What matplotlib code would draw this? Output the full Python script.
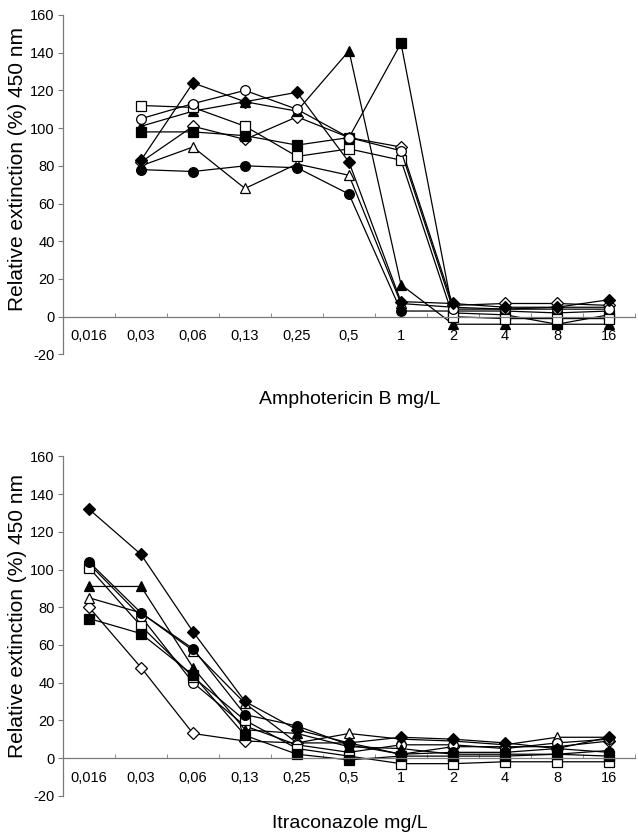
import numpy as np
import matplotlib.pyplot as plt

plt.rcParams['font.family'] = ['Liberation Sans', 'DejaVu Sans']
plt.rcParams['axes.unicode_minus'] = False

nan = np.nan

# concentration categories (same for both panels)
conc_labels = ['0,016', '0,03', '0,06', '0,13', '0,25', '0,5',
               '1', '2', '4', '8', '16']

# Amphotericin B, relative extinction (%) per isolate
ampho_diamond_f = [nan, 83, 124, 114, 119, 82, 8, 7, 5, 5, 9]
ampho_circle_o = [nan, 105, 113, 120, 110, 95, 88, 4, 4, 4, 4]
ampho_triangle_f = [nan, 101, 109, 114, 109, 141, 17, -4, -4, -4, -4]
ampho_square_o = [nan, 112, 111, 101, 85, 89, 83, 0, -1, -1, -1]
ampho_square_f = [nan, 98, 98, 96, 91, 95, 145, 2, 1, -4, 1]
ampho_diamond_o = [nan, 82, 101, 94, 106, 95, 90, 6, 7, 7, 6]
ampho_triangle_o = [nan, 80, 90, 68, 81, 75, 7, 5, 4, 5, 5]
ampho_circle_f = [nan, 78, 77, 80, 79, 65, 3, 3, 3, 2, 3]

# Itraconazole, relative extinction (%) per isolate
itra_diamond_f = [132, 108, 67, 30, 15, 8, 11, 10, 8, 5, 11]
itra_circle_f = [104, 77, 58, 23, 17, 7, 2, 3, 3, 5, 3]
itra_circle_o = [103, 75, 40, 17, 7, 3, 7, 7, 5, 8, 10]
itra_square_o = [101, 70, 43, 20, 5, 1, -3, -3, -2, -2, -2]
itra_triangle_f = [91, 91, 48, 15, 13, 6, 5, 2, 2, 2, 4]
itra_triangle_o = [85, 77, 57, 29, 8, 13, 10, 9, 7, 11, 11]
itra_diamond_o = [80, 48, 13, 9, 8, 8, 2, 6, 6, 6, 9]
itra_square_f = [74, 66, 44, 12, 2, -1, 1, 1, 1, 2, 1]

ampho_series = [
    (ampho_triangle_o, '^', 'white'),
    (ampho_diamond_o, 'D', 'white'),
    (ampho_circle_f, 'o', 'black'),
    (ampho_triangle_f, '^', 'black'),
    (ampho_square_f, 's', 'black'),
    (ampho_square_o, 's', 'white'),
    (ampho_circle_o, 'o', 'white'),
    (ampho_diamond_f, 'D', 'black'),
]
itra_series = [
    (itra_diamond_o, 'D', 'white'),
    (itra_triangle_o, '^', 'white'),
    (itra_circle_o, 'o', 'white'),
    (itra_square_o, 's', 'white'),
    (itra_square_f, 's', 'black'),
    (itra_triangle_f, '^', 'black'),
    (itra_circle_f, 'o', 'black'),
    (itra_diamond_f, 'D', 'black'),
]

msizes = {'D': 6.0, 'o': 7.0, '^': 7.5, 's': 6.5}
axis_grey = '#7a7a7a'


def style_axes(ax):
    ax.set_xlim(-0.5, 10.5)
    ax.set_ylim(-20, 160)
    ax.spines['top'].set_visible(False)
    ax.spines['right'].set_visible(False)
    ax.spines['bottom'].set_position(('data', 0))
    for s in ('left', 'bottom'):
        ax.spines[s].set_color(axis_grey)
        ax.spines[s].set_linewidth(0.9)
    ax.set_yticks(range(-20, 161, 20))
    ax.set_xticks(range(len(conc_labels)))
    ax.set_xticklabels(conc_labels)
    ax.set_xticks(np.arange(0.5, 11, 1), minor=True)
    ax.tick_params(axis='x', which='major', length=0, pad=9, labelsize=10.5)
    ax.tick_params(axis='x', which='minor', direction='in', length=3,
                   color=axis_grey)
    ax.tick_params(axis='y', direction='out', length=3.5, pad=2.5,
                   color=axis_grey, labelsize=10.5)
    ax.patch.set_alpha(0)


def draw(ax, series):
    x = np.arange(len(conc_labels))
    for vals, m, face in series:
        ax.plot(x, vals, color='black', lw=0.9, marker=m, ms=msizes[m],
                mfc=face, mec='black', mew=0.9, clip_on=False)


fig = plt.figure(figsize=(6.38, 8.35), dpi=100)
ax1 = fig.add_axes([63 / 638, 1 - 354.4 / 835, 572 / 638, 339.4 / 835])
ax2 = fig.add_axes([63 / 638, 1 - 795.7 / 835, 572 / 638, 339.3 / 835])

draw(ax1, ampho_series)
draw(ax2, itra_series)
style_axes(ax1)
style_axes(ax2)

fig.text(350 / 638, 1 - 400 / 835, 'Amphotericin B mg/L', ha='center',
         va='center', fontsize=14)
fig.text(350 / 638, 1 - 823 / 835, 'Itraconazole mg/L', ha='center',
         va='center', fontsize=14)
fig.text(18 / 638, 1 - 169 / 835, 'Relative extinction (%) 450 nm',
         rotation=90, ha='center', va='center', fontsize=15)
fig.text(18 / 638, 1 - 616 / 835, 'Relative extinction (%) 450 nm',
         rotation=90, ha='center', va='center', fontsize=15)

fig.savefig('out.png', dpi=100)
